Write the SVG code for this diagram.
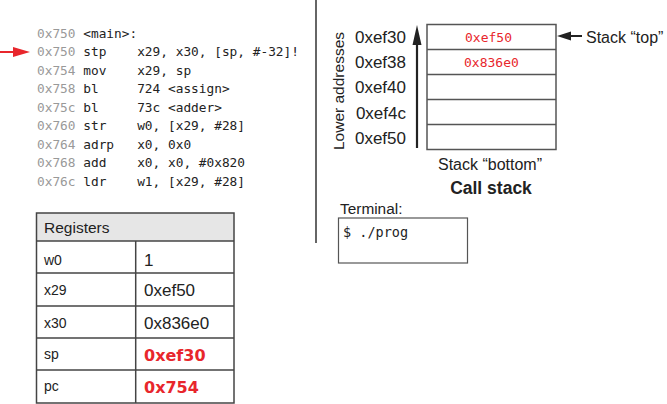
<svg xmlns="http://www.w3.org/2000/svg" width="667" height="404" viewBox="0 0 667 404">
<style>
.code{font-family:"DejaVu Sans Mono","Liberation Mono",monospace;font-size:12.8px;fill:#222;white-space:pre}
.addr{fill:#999}
.sans{font-family:"Liberation Sans",Arial,sans-serif;fill:#222}
.hex{font-size:17px}
.reg{font-size:14px}
.redmono{font-family:"DejaVu Sans Mono","Liberation Mono",monospace;font-size:13px;fill:#e8262c}
.redbold{font-family:"DejaVu Sans",sans-serif;font-weight:bold;font-size:16px;fill:#e8262c}
.box{fill:none;stroke:#555;stroke-width:1.5}
.tbl{stroke:#444;stroke-width:1.5;fill:none}
</style>
<rect width="667" height="404" fill="#fff"/>
<g id="divider"><line x1="316" y1="0" x2="316" y2="243" stroke="#333" stroke-width="1.5"/></g>
<g id="code">
<text class="code" x="37" y="37.5"><tspan class="addr">0x750</tspan> &lt;main&gt;:</text>
<text class="code" x="37" y="56"><tspan class="addr">0x750</tspan> stp    x29, x30, [sp, #-32]!</text>
<text class="code" x="37" y="74.6"><tspan class="addr">0x754</tspan> mov    x29, sp</text>
<text class="code" x="37" y="93.1"><tspan class="addr">0x758</tspan> bl     724 &lt;assign&gt;</text>
<text class="code" x="37" y="111.7"><tspan class="addr">0x75c</tspan> bl     73c &lt;adder&gt;</text>
<text class="code" x="37" y="130.2"><tspan class="addr">0x760</tspan> str    w0, [x29, #28]</text>
<text class="code" x="37" y="148.8"><tspan class="addr">0x764</tspan> adrp   x0, 0x0</text>
<text class="code" x="37" y="167.3"><tspan class="addr">0x768</tspan> add    x0, x0, #0x820</text>
<text class="code" x="37" y="185.9"><tspan class="addr">0x76c</tspan> ldr    w1, [x29, #28]</text>
</g>
<g id="connectors">
<line x1="0" y1="52" x2="16" y2="52" stroke="#e8262c" stroke-width="2"/>
<polygon points="30,52 13,47 13,57" fill="#e8262c"/>
<line x1="417" y1="44" x2="417" y2="148" stroke="#222" stroke-width="2.2"/>
<polygon points="417,25 412.5,45 421.5,45" fill="#222"/>
<line x1="568" y1="36" x2="582" y2="36" stroke="#222" stroke-width="2"/>
<polygon points="557,36 571,31.5 571,40.5" fill="#222"/>
</g>
<g id="stack">
<rect class="box" x="427" y="24.5" width="129" height="125"/>
<line class="box" x1="427" y1="49.5" x2="556" y2="49.5"/>
<line class="box" x1="427" y1="74.5" x2="556" y2="74.5"/>
<line class="box" x1="427" y1="99.5" x2="556" y2="99.5"/>
<line class="box" x1="427" y1="124.5" x2="556" y2="124.5"/>
<text class="redmono" x="465" y="41.5">0xef50</text>
<text class="redmono" x="464" y="66.5">0x836e0</text>
<g class="sans hex" text-anchor="end">
<text x="406" y="43">0xef30</text>
<text x="406" y="68">0xef38</text>
<text x="406" y="93">0xef40</text>
<text x="406" y="118.5">0xef4c</text>
<text x="406" y="144">0xef50</text>
</g>
<text class="sans" x="338" y="91" font-size="15.5" text-anchor="middle" dominant-baseline="central" transform="rotate(-90 338 91)">Lower addresses</text>
<text class="sans" x="586" y="42.5" font-size="16">Stack “top”</text>
<text class="sans" x="490" y="169.5" font-size="16" text-anchor="middle">Stack “bottom”</text>
<text class="sans" x="491" y="194" font-size="17.5" font-weight="bold" text-anchor="middle">Call stack</text>
</g>
<g id="terminal">
<text class="sans" x="340" y="213.5" font-size="15.4">Terminal:</text>
<rect x="338.5" y="218" width="129" height="45" fill="none" stroke="#555" stroke-width="1.2"/>
<text x="343" y="237" font-family="DejaVu Sans Mono,Liberation Mono,monospace" font-size="13.5" fill="#222">$ ./prog</text>
</g>
<g id="registers">
<rect x="36.5" y="213" width="197.5" height="28" fill="#e6e6e6"/>
<rect class="tbl" x="36.5" y="213" width="197.5" height="190"/>
<line class="tbl" x1="36.5" y1="241" x2="234" y2="241"/>
<line class="tbl" x1="36.5" y1="273" x2="234" y2="273"/>
<line class="tbl" x1="36.5" y1="306" x2="234" y2="306"/>
<line class="tbl" x1="36.5" y1="338" x2="234" y2="338"/>
<line class="tbl" x1="36.5" y1="370" x2="234" y2="370"/>
<line class="tbl" x1="135.7" y1="241" x2="135.7" y2="403"/>
<text class="sans" x="44" y="232.5" font-size="15.5">Registers</text>
<text class="sans reg" x="44" y="265">w0</text>
<text class="sans reg" x="44" y="295">x29</text>
<text class="sans reg" x="44" y="328">x30</text>
<text class="sans reg" x="44" y="359">sp</text>
<text class="sans reg" x="44" y="391">pc</text>
<text class="sans hex" x="144" y="266">1</text>
<text class="sans hex" x="144" y="296">0xef50</text>
<text class="sans hex" x="144" y="329">0x836e0</text>
<text class="redbold" x="144" y="361">0xef30</text>
<text class="redbold" x="144" y="393">0x754</text>
</g>
</svg>
